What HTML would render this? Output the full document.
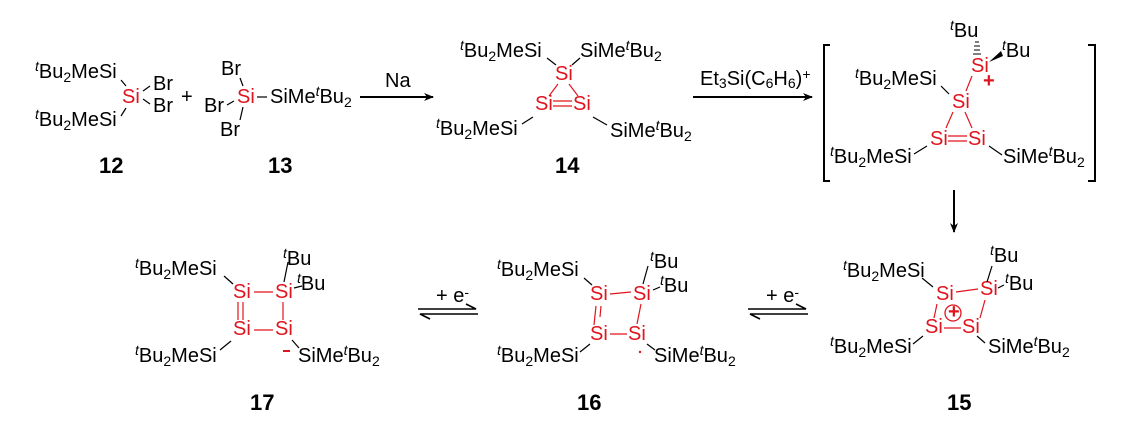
<!DOCTYPE html>
<html><head><meta charset="utf-8"><style>
body{margin:0;background:#fff}
svg{display:block}
text{font-family:"Liberation Sans",Arial,sans-serif;font-size:20px;fill:#000}
.r{fill:#e0141e}
.b{font-weight:bold;font-size:22px}
.s{font-size:14px}
line.k{stroke:#000;stroke-width:1.2}
line.rl{stroke:#e0141e;stroke-width:1.2}
</style></head><body>
<svg width="1135" height="423" viewBox="0 0 1135 423">
<defs>
<marker id="ah" markerWidth="10" markerHeight="8" refX="9" refY="4" orient="auto" markerUnits="userSpaceOnUse"><path d="M0,0 L10,4 L0,8 L3,4z" fill="#000"/></marker>
</defs>
<!-- 12 -->
<text x="35" y="78"><tspan class="s" font-style="italic" dy="-7">t</tspan><tspan dy="7">Bu</tspan><tspan class="s" dy="4">2</tspan><tspan dy="-4">MeSi</tspan></text>
<text x="35" y="126"><tspan class="s" font-style="italic" dy="-7">t</tspan><tspan dy="7">Bu</tspan><tspan class="s" dy="4">2</tspan><tspan dy="-4">MeSi</tspan></text>
<text x="122" y="103" class="r">Si</text>
<text x="153" y="90">Br</text><text x="153" y="112">Br</text>
<line class="k" x1="121" y1="80" x2="126" y2="86"/><line class="k" x1="126" y1="108" x2="121" y2="116"/>
<line class="k" x1="143" y1="91" x2="150" y2="86"/><line class="k" x1="143" y1="99" x2="150" y2="104"/>
<text x="181" y="103" font-size="20">+</text>
<text x="99" y="173" class="b">12</text>
<!-- 13 -->
<text x="221" y="75">Br</text><text x="204" y="112">Br</text><text x="220" y="136">Br</text>
<text x="237" y="103" class="r">Si</text>
<line class="k" x1="240" y1="78" x2="243" y2="86"/><line class="k" x1="227" y1="105" x2="234" y2="101"/><line class="k" x1="243" y1="107" x2="240" y2="120"/>
<line class="k" x1="257" y1="97" x2="267" y2="97"/>
<text x="270" y="103">SiMe<tspan class="s" font-style="italic" dy="-7">t</tspan><tspan dy="7">Bu</tspan><tspan class="s" dy="4">2</tspan></text>
<text x="268" y="173" class="b">13</text>
<!-- arrow 1 -->
<line x1="360" y1="97" x2="433" y2="97" stroke="#000" stroke-width="2" marker-end="url(#ah)"/>
<text x="385" y="87">Na</text>
<!-- 14 -->
<text x="460" y="57"><tspan class="s" font-style="italic" dy="-7">t</tspan><tspan dy="7">Bu</tspan><tspan class="s" dy="4">2</tspan><tspan dy="-4">MeSi</tspan></text>
<text x="580" y="57">SiMe<tspan class="s" font-style="italic" dy="-7">t</tspan><tspan dy="7">Bu</tspan><tspan class="s" dy="4">2</tspan></text>
<text x="555" y="80" class="r">Si</text>
<line class="k" x1="547" y1="58" x2="556" y2="65"/><line class="k" x1="580" y1="58" x2="572" y2="65"/>
<line class="rl" x1="558" y1="84" x2="549" y2="96"/><line class="rl" x1="569" y1="84" x2="578" y2="96"/>
<text x="535" y="110" class="r">Si</text><text x="573" y="110" class="r">Si</text>
<line class="rl" x1="553" y1="101" x2="572" y2="101"/><line class="rl" x1="553" y1="106" x2="572" y2="106"/>
<text x="436" y="135"><tspan class="s" font-style="italic" dy="-7">t</tspan><tspan dy="7">Bu</tspan><tspan class="s" dy="4">2</tspan><tspan dy="-4">MeSi</tspan></text>
<text x="610" y="137">SiMe<tspan class="s" font-style="italic" dy="-7">t</tspan><tspan dy="7">Bu</tspan><tspan class="s" dy="4">2</tspan></text>
<line class="k" x1="522" y1="124" x2="533" y2="117"/><line class="k" x1="593" y1="117" x2="607" y2="125"/>
<text x="555" y="173" class="b">14</text>
<!-- arrow 2 -->
<line x1="693" y1="97" x2="812" y2="97" stroke="#000" stroke-width="2" marker-end="url(#ah)"/>
<text x="700" y="85" font-size="16">Et<tspan class="s" dy="3">3</tspan><tspan dy="-3">Si(C</tspan><tspan class="s" dy="3">6</tspan><tspan dy="-3">H</tspan><tspan class="s" dy="3">6</tspan><tspan dy="-3">)</tspan><tspan class="s" dy="-6">+</tspan></text>
<!-- brackets -->
<path d="M830,45 H824 V181 H830" fill="none" stroke="#000" stroke-width="2"/>
<path d="M1088,45 H1095 V181 H1088" fill="none" stroke="#000" stroke-width="2"/>
<!-- cation -->
<text x="950" y="37"><tspan class="s" font-style="italic" dy="-7">t</tspan><tspan dy="7">Bu</tspan></text>
<text x="1002" y="57"><tspan class="s" font-style="italic" dy="-7">t</tspan><tspan dy="7">Bu</tspan></text>
<text x="971" y="72" class="r">Si</text>
<text x="983" y="87" class="r" font-weight="bold" font-size="17">+</text>
<line x1="975" y1="42" x2="979" y2="42" stroke="#000"/><line x1="974" y1="46" x2="980" y2="46" stroke="#000"/><line x1="974" y1="50" x2="980" y2="50" stroke="#000"/><line x1="973" y1="54" x2="981" y2="54" stroke="#000"/>
<path d="M989,62 L1001,51 L1003,56z" fill="#000"/>
<text x="855" y="85"><tspan class="s" font-style="italic" dy="-7">t</tspan><tspan dy="7">Bu</tspan><tspan class="s" dy="4">2</tspan><tspan dy="-4">MeSi</tspan></text>
<line class="k" x1="941" y1="86" x2="949" y2="94"/>
<line class="rl" x1="972" y1="76" x2="966" y2="91"/>
<text x="952" y="108" class="r">Si</text>
<line class="rl" x1="953" y1="112" x2="946" y2="128"/><line class="rl" x1="965" y1="112" x2="972" y2="128"/>
<text x="930" y="145" class="r">Si</text><text x="968" y="145" class="r">Si</text>
<line class="rl" x1="948" y1="136" x2="967" y2="136"/><line class="rl" x1="948" y1="141" x2="967" y2="141"/>
<text x="830" y="163"><tspan class="s" font-style="italic" dy="-7">t</tspan><tspan dy="7">Bu</tspan><tspan class="s" dy="4">2</tspan><tspan dy="-4">MeSi</tspan></text>
<text x="1003" y="163">SiMe<tspan class="s" font-style="italic" dy="-7">t</tspan><tspan dy="7">Bu</tspan><tspan class="s" dy="4">2</tspan></text>
<line class="k" x1="914" y1="154" x2="927" y2="146"/><line class="k" x1="989" y1="146" x2="1002" y2="155"/>
<!-- down arrow -->
<line x1="954" y1="190" x2="954" y2="232" stroke="#000" stroke-width="2" marker-end="url(#ah)"/>
<!-- 15 -->
<text x="843" y="277"><tspan class="s" font-style="italic" dy="-7">t</tspan><tspan dy="7">Bu</tspan><tspan class="s" dy="4">2</tspan><tspan dy="-4">MeSi</tspan></text>
<text x="990" y="262"><tspan class="s" font-style="italic" dy="-7">t</tspan><tspan dy="7">Bu</tspan></text>
<text x="1005" y="290"><tspan class="s" font-style="italic" dy="-7">t</tspan><tspan dy="7">Bu</tspan></text>
<text x="936" y="300" class="r">Si</text><text x="980" y="295" class="r">Si</text>
<text x="925" y="333" class="r">Si</text><text x="962" y="333" class="r">Si</text>
<circle cx="953" cy="313" r="8" fill="none" stroke="#e0141e" stroke-width="1.3"/>
<text x="948" y="318" class="r" font-weight="bold" font-size="14">+</text>
<line class="k" x1="922" y1="278" x2="933" y2="287"/><line class="k" x1="992" y1="266" x2="987" y2="282"/><line class="k" x1="998" y1="288" x2="1004" y2="285"/>
<line class="rl" x1="956" y1="292" x2="978" y2="289"/><line class="rl" x1="985" y1="300" x2="980" y2="318"/>
<line class="rl" x1="937" y1="304" x2="934" y2="318"/><line class="rl" x1="944" y1="328" x2="961" y2="328"/>
<text x="830" y="353"><tspan class="s" font-style="italic" dy="-7">t</tspan><tspan dy="7">Bu</tspan><tspan class="s" dy="4">2</tspan><tspan dy="-4">MeSi</tspan></text>
<text x="988" y="353">SiMe<tspan class="s" font-style="italic" dy="-7">t</tspan><tspan dy="7">Bu</tspan><tspan class="s" dy="4">2</tspan></text>
<line class="k" x1="913" y1="344" x2="923" y2="336"/><line class="k" x1="977" y1="336" x2="985" y2="343"/>
<text x="947" y="410" class="b">15</text>
<!-- equilibrium arrows -->
<path d="M748,309 H806 L796,304" fill="none" stroke="#000" stroke-width="1.6"/>
<path d="M808,314 H750 L760,319" fill="none" stroke="#000" stroke-width="1.6"/>
<text x="766" y="302" font-size="15">+ e<tspan class="s" dy="-5">-</tspan></text>
<path d="M418,309 H476 L466,304" fill="none" stroke="#000" stroke-width="1.6"/>
<path d="M478,314 H420 L430,319" fill="none" stroke="#000" stroke-width="1.6"/>
<text x="436" y="302" font-size="15">+ e<tspan class="s" dy="-5">-</tspan></text>
<!-- 16 -->
<text x="497" y="276"><tspan class="s" font-style="italic" dy="-7">t</tspan><tspan dy="7">Bu</tspan><tspan class="s" dy="4">2</tspan><tspan dy="-4">MeSi</tspan></text>
<text x="650" y="268"><tspan class="s" font-style="italic" dy="-7">t</tspan><tspan dy="7">Bu</tspan></text>
<text x="660" y="292"><tspan class="s" font-style="italic" dy="-7">t</tspan><tspan dy="7">Bu</tspan></text>
<text x="590" y="300" class="r">Si</text><text x="633" y="300" class="r">Si</text>
<text x="590" y="340" class="r">Si</text><text x="628" y="340" class="r">Si</text>
<circle cx="640" cy="352" r="1.2" fill="#e0141e"/>
<line class="k" x1="584" y1="278" x2="592" y2="285"/><line class="k" x1="648" y1="266" x2="643" y2="284"/><line class="k" x1="653" y1="290" x2="660" y2="287"/>
<line class="rl" x1="610" y1="294" x2="631" y2="292"/><line class="rl" x1="641" y1="304" x2="637" y2="324"/>
<line class="rl" x1="596" y1="306" x2="594" y2="325"/><line class="rl" x1="601" y1="306" x2="600" y2="317"/>
<line class="rl" x1="610" y1="334" x2="627" y2="334"/>
<text x="497" y="362"><tspan class="s" font-style="italic" dy="-7">t</tspan><tspan dy="7">Bu</tspan><tspan class="s" dy="4">2</tspan><tspan dy="-4">MeSi</tspan></text>
<text x="654" y="362">SiMe<tspan class="s" font-style="italic" dy="-7">t</tspan><tspan dy="7">Bu</tspan><tspan class="s" dy="4">2</tspan></text>
<line class="k" x1="580" y1="352" x2="590" y2="344"/><line class="k" x1="647" y1="344" x2="655" y2="350"/>
<text x="577" y="410" class="b">16</text>
<!-- 17 -->
<text x="135" y="275"><tspan class="s" font-style="italic" dy="-7">t</tspan><tspan dy="7">Bu</tspan><tspan class="s" dy="4">2</tspan><tspan dy="-4">MeSi</tspan></text>
<text x="283" y="265"><tspan class="s" font-style="italic" dy="-7">t</tspan><tspan dy="7">Bu</tspan></text>
<text x="297" y="290"><tspan class="s" font-style="italic" dy="-7">t</tspan><tspan dy="7">Bu</tspan></text>
<text x="233" y="298" class="r">Si</text><text x="275" y="298" class="r">Si</text>
<text x="233" y="335" class="r">Si</text><text x="275" y="335" class="r">Si</text>
<line class="k" x1="224" y1="276" x2="233" y2="284"/><line class="k" x1="288" y1="262" x2="284" y2="282"/><line class="k" x1="294" y1="288" x2="302" y2="286"/>
<line class="rl" x1="254" y1="292" x2="273" y2="292"/><line class="rl" x1="254" y1="330" x2="273" y2="330"/>
<line class="rl" x1="283" y1="302" x2="283" y2="320"/>
<line class="rl" x1="238" y1="302" x2="238" y2="320"/><line class="rl" x1="243" y1="302" x2="243" y2="320"/>
<text x="135" y="362"><tspan class="s" font-style="italic" dy="-7">t</tspan><tspan dy="7">Bu</tspan><tspan class="s" dy="4">2</tspan><tspan dy="-4">MeSi</tspan></text>
<text x="298" y="362">SiMe<tspan class="s" font-style="italic" dy="-7">t</tspan><tspan dy="7">Bu</tspan><tspan class="s" dy="4">2</tspan></text>
<line class="k" x1="220" y1="350" x2="231" y2="341"/><line class="k" x1="292" y1="340" x2="299" y2="348"/>
<line x1="283" y1="351" x2="290" y2="351" stroke="#e0141e" stroke-width="2"/>
<text x="250" y="410" class="b">17</text>
</svg>
</body></html>
